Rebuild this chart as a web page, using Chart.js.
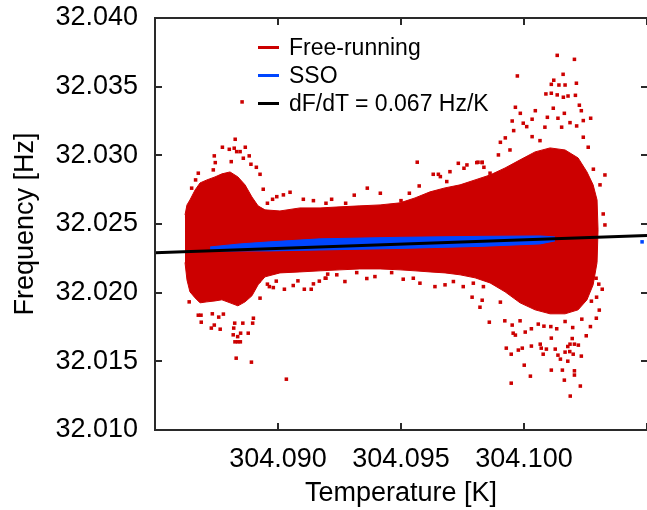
<!DOCTYPE html>
<html>
<head>
<meta charset="utf-8">
<script src="https://cdn.jsdelivr.net/npm/chart.js@4/dist/chart.umd.min.js"></script>
<style>
html,body{margin:0;padding:0;background:#fff;}
#wrap{position:relative;width:647px;height:510px;}
#legend{position:absolute;left:258px;top:33px;font-family:"Liberation Sans",Arial,sans-serif;font-size:23px;color:#000;}
#legend .row{height:28px;line-height:28px;white-space:nowrap;}
#legend .sw{display:inline-block;width:21px;height:3px;vertical-align:middle;margin-right:10px;position:relative;top:-1px;}
</style>
</head>
<body>
<div id="wrap"><canvas id="c"></canvas><div id="legend"></div></div>
<script>
// ---- data ----
const coreT = [304.08622,304.08630,304.08642,304.08663,304.08683,304.08711,304.08744,304.08772,304.08805,304.08837,304.08866,304.08894,304.08919,304.08947,304.09008,304.09089,304.09171,304.09252,304.09333,304.09415,304.09496,304.09557,304.09618,304.09679,304.09740,304.09801,304.09862,304.09923,304.09984,304.10045,304.10106,304.10167,304.10220,304.10256,304.10281,304.10297,304.10301];
const coreUpper = [32.02566,32.02639,32.02675,32.02748,32.02799,32.02821,32.02843,32.02865,32.02879,32.02843,32.02785,32.02697,32.02632,32.02603,32.02595,32.02617,32.02617,32.02625,32.02632,32.02639,32.02654,32.02690,32.02734,32.02763,32.02785,32.02821,32.02857,32.02908,32.02967,32.03025,32.03054,32.03039,32.02981,32.02879,32.02785,32.02675,32.02457];
const coreLower = [32.02220,32.02093,32.02006,32.01962,32.01926,32.01933,32.01940,32.01948,32.01926,32.01904,32.01933,32.01977,32.02057,32.02115,32.02144,32.02151,32.02159,32.02166,32.02173,32.02173,32.02166,32.02159,32.02151,32.02144,32.02130,32.02108,32.02071,32.02006,32.01926,32.01875,32.01846,32.01846,32.01875,32.01948,32.02057,32.02220,32.02457];

const outlierT = [304.08826,304.08774,304.08802,304.08867,304.08822,304.08741,304.08883,304.08832,304.08846,304.08745,304.08810,304.08890,304.08859,304.08912,304.08737,304.08927,304.08676,304.08665,304.08940,304.08649,304.08995,304.09022,304.09049,304.08978,304.08957,304.09103,304.09144,304.09195,304.08635,304.08629,
304.09566,304.09363,304.09310,304.09416,304.09218,304.09534,304.09574,304.09631,304.09652,304.09699,304.09733,304.09756,304.09808,304.09830,304.09768,304.09837,304.09660,304.09686,304.09275,304.09500,
304.10135,304.10205,304.09973,304.10159,304.10121,304.10111,304.10142,304.10167,304.10213,304.10089,304.10111,304.10135,304.10160,304.10179,304.10209,304.09965,304.10046,304.09985,304.10119,304.10164,304.10225,304.10233,304.10271,304.09952,304.10033,304.10095,304.10138,304.10187,304.10241,304.09997,304.10085,304.10011,304.09958,304.10153,304.10214,304.09924,304.09904,304.10033,304.10065,304.10241,304.09896,304.09813,304.09830,304.10329,304.10282,304.10309,304.10322,304.10329,304.09943,304.10261,304.09862,
304.08639,304.08687,304.08676,304.08688,304.08729,304.08741,304.08765,304.08733,304.08759,304.08778,304.08820,304.08824,304.08818,304.08836,304.08848,304.08879,304.08857,304.08897,304.08900,304.08825,304.08836,304.08847,304.08830,304.08892,304.09034,304.08927,304.08957,304.08965,304.08981,304.09026,304.09062,304.09107,304.09135,304.09144,304.09168,304.09192,304.09202,304.08993,304.09081,304.08923,
304.09195,304.09239,304.09272,304.09320,304.09361,304.09394,304.09462,304.09509,304.09550,304.09577,304.09638,304.09679,304.09713,304.09753,304.09794,304.09835,
304.09789,304.09830,304.09821,304.09859,304.09904,304.09922,304.09952,304.09965,304.09956,304.09984,304.10005,304.10030,304.10058,304.10081,304.10109,304.10133,304.10167,304.10198,304.10235,304.10253,304.10270,304.10294,304.10306,304.10274,304.10295,304.10318,304.10304,304.10293,304.09928,304.09948,304.09993,304.09977,304.10030,304.10066,304.10070,304.10091,304.10111,304.10127,304.10078,304.10138,304.10148,304.10167,304.10178,304.10187,304.10205,304.10221,304.10196,304.10186,304.10200,304.10233,304.10178,304.10001,304.10111,304.10156,304.10205,304.10205,304.10026,304.10164,304.10229,304.09948,304.10188,
304.08854];
const outlierF = [32.03117,32.03059,32.03044,32.03059,32.03052,32.02996,32.02996,32.03027,32.03027,32.02947,32.02954,32.02935,32.02979,32.02913,32.02894,32.02862,32.02870,32.02821,32.02753,32.02761,32.02699,32.02712,32.02731,32.02680,32.02651,32.02680,32.02670,32.02651,32.02615,32.02554,
32.02950,32.02761,32.02710,32.02724,32.02680,32.02724,32.02777,32.02862,32.02862,32.02881,32.02942,32.02906,32.02947,32.02947,32.02930,32.02913,32.02845,32.02809,32.02651,32.02670,
32.03728,32.03699,32.03578,32.03590,32.03547,32.03517,32.03512,32.03512,32.03525,32.03447,32.03452,32.03440,32.03423,32.03432,32.03437,32.03350,32.03325,32.03306,32.03343,32.03306,32.03365,32.03325,32.03270,32.03250,32.03263,32.03277,32.03270,32.03238,32.03253,32.03234,32.03205,32.03209,32.03180,32.03205,32.03214,32.03127,32.03095,32.03136,32.03107,32.03132,32.03003,32.02950,32.02950,32.02857,32.02899,32.02785,32.02573,32.02493,32.03039,32.03059,32.02870,
32.01933,32.01836,32.01836,32.01785,32.01742,32.01764,32.01734,32.01846,32.01822,32.01844,32.01742,32.01778,32.01693,32.01680,32.01705,32.01705,32.01778,32.01778,32.01814,32.01642,32.01642,32.01642,32.01523,32.01494,32.01370,32.01960,32.02062,32.02044,32.02037,32.02025,32.02052,32.02025,32.02025,32.02064,32.02084,32.02105,32.02135,32.02084,32.02086,32.02086,
32.02105,32.02130,32.02081,32.02146,32.02103,32.02117,32.02146,32.02098,32.02105,32.02069,32.02044,32.02057,32.02081,32.02044,32.02069,32.02044,
32.01967,32.01945,32.01894,32.01785,32.01931,32.01795,32.01764,32.01691,32.01705,32.01795,32.01713,32.01737,32.01771,32.01756,32.01753,32.01737,32.01790,32.01746,32.01807,32.01686,32.01753,32.01814,32.01873,32.01938,32.01967,32.02025,32.02062,32.02105,32.01596,32.01552,32.01596,32.01582,32.01611,32.01625,32.01596,32.01589,32.01669,32.01589,32.01552,32.01545,32.01516,32.01567,32.01608,32.01625,32.01625,32.01618,32.01666,32.01571,32.01552,32.01538,32.01501,32.01472,32.01436,32.01436,32.01431,32.01400,32.01392,32.01363,32.01320,32.01341,32.01247,
32.03389];

const ssoT = [304.08724,304.08846,304.08967,304.09171,304.09496,304.09821,304.10065,304.10126];
const ssoUpper = [32.02333,32.02355,32.02370,32.02392,32.02403,32.02410,32.02413,32.02406];
const ssoLower = [32.02301,32.02304,32.02304,32.02311,32.02322,32.02337,32.02355,32.02377];
const ssoExtraT = [304.10480];
const ssoExtraF = [32.02370];

const fitT = [304.085, 304.105];
const fitF = [32.02290, 32.02417];

const xTickValues = [304.085, 304.090, 304.095, 304.100, 304.105];
const xTickLabels = ['', '304.090', '304.095', '304.100', ''];
const yTickValues = [32.010, 32.015, 32.020, 32.025, 32.030, 32.035, 32.040];
const yTickLabels = ['32.010', '32.015', '32.020', '32.025', '32.030', '32.035', '32.040'];

const seriesNames = ['Free-running', 'SSO', 'dF/dT = 0.067 Hz/K'];
const seriesColors = ['#cc0000', '#0046ff', '#000000'];

// ---- build ----
const zip = (xs, ys) => xs.map((x, i) => ({x: x, y: ys[i]}));
const FONT = '"Liberation Sans", Arial, sans-serif';

const frame = {
  id: 'frame',
  afterDatasetsDraw(chart) {
    const {ctx, chartArea: a, scales: {x, y}} = chart;
    ctx.save();
    ctx.strokeStyle = '#2a2a2a';
    ctx.lineWidth = 2;
    ctx.beginPath();
    ctx.moveTo(a.right + 2, a.top); ctx.lineTo(a.left, a.top);
    ctx.lineTo(a.left, a.bottom); ctx.lineTo(a.right + 2, a.bottom);
    ctx.stroke();
    ctx.beginPath();
    xTickValues.forEach(v => {
      const px = Math.round(x.getPixelForValue(v));
      ctx.moveTo(px, a.bottom); ctx.lineTo(px, a.bottom - 7);
      ctx.moveTo(px, a.top); ctx.lineTo(px, a.top + 7);
    });
    yTickValues.forEach(v => {
      const py = Math.round(y.getPixelForValue(v));
      ctx.moveTo(a.left, py); ctx.lineTo(a.left + 7, py);
      ctx.moveTo(a.right, py); ctx.lineTo(a.right - 6, py);
    });
    ctx.stroke();
    ctx.restore();
  }
};

new Chart(document.getElementById('c'), {
  type: 'line',
  data: {
    datasets: [
      {label: seriesNames[2], data: zip(fitT, fitF), borderColor: seriesColors[2], borderWidth: 3, pointRadius: 0, order: 0, fill: false},
      {label: seriesNames[1], data: zip(ssoT, ssoUpper), borderColor: seriesColors[1], borderWidth: 1, backgroundColor: seriesColors[1], pointRadius: 0, order: 1, fill: '+1'},
      {label: 'sso-lower', data: zip(ssoT, ssoLower), borderColor: seriesColors[1], borderWidth: 1, pointRadius: 0, order: 1, fill: false},
      {label: 'sso-extra', data: zip(ssoExtraT, ssoExtraF), showLine: false, pointStyle: 'rect', pointRadius: 2.5, pointBorderWidth: 0, pointBackgroundColor: seriesColors[1], order: 1},
      {label: seriesNames[0], data: zip(coreT, coreUpper), borderColor: seriesColors[0], borderWidth: 1, backgroundColor: seriesColors[0], pointRadius: 0, order: 3, fill: '+1'},
      {label: 'core-lower', data: zip(coreT, coreLower), borderColor: seriesColors[0], borderWidth: 1, pointRadius: 0, order: 3, fill: false},
      {label: 'outliers', data: zip(outlierT, outlierF), showLine: false, pointStyle: 'rect', pointRadius: 2.5, pointBorderWidth: 0, pointBackgroundColor: seriesColors[0], order: 2}
    ]
  },
  options: {
    responsive: true,
    maintainAspectRatio: false,
    animation: false,
    events: [],
    elements: {line: {tension: 0}},
    layout: {autoPadding: false, padding: {top: 18, right: 0, left: 0, bottom: 0}},
    plugins: {legend: {display: false}, tooltip: {enabled: false}},
    scales: {
      x: {
        type: 'linear', min: 304.085, max: 304.105,
        afterBuildTicks: s => { s.ticks = xTickValues.map(v => ({value: v})); },
        afterFit: s => { s.height = 80; s.paddingLeft = 0; s.paddingRight = 0; },
        ticks: {callback: (v, i) => xTickLabels[i], color: '#000', font: {family: FONT, size: 27}, padding: 13, maxRotation: 0, autoSkip: false},
        grid: {display: false, drawTicks: false},
        border: {display: false},
        title: {display: true, text: 'Temperature [K]', color: '#000', font: {family: FONT, size: 27}, padding: {top: 0, bottom: 0}}
      },
      y: {
        type: 'linear', min: 32.010, max: 32.040,
        afterBuildTicks: s => { s.ticks = yTickValues.map(v => ({value: v})); },
        afterFit: s => { s.width = 155; s.paddingTop = 0; s.paddingBottom = 0; },
        ticks: {callback: (v, i) => yTickLabels[i], color: '#000', font: {family: FONT, size: 27}, padding: 17, autoSkip: false},
        grid: {display: false, drawTicks: false},
        border: {display: false},
        title: {display: true, text: 'Frequency [Hz]', color: '#000', font: {family: FONT, size: 27}, padding: {top: 9, bottom: 0}}
      }
    }
  },
  plugins: [frame]
});

// HTML legend built from the series names/colours
const lg = document.getElementById('legend');
seriesNames.forEach((n, i) => {
  const r = document.createElement('div');
  r.className = 'row';
  const sw = document.createElement('span');
  sw.className = 'sw';
  sw.style.background = seriesColors[i];
  r.appendChild(sw);
  r.appendChild(document.createTextNode(n));
  lg.appendChild(r);
});
</script>
</body>
</html>
